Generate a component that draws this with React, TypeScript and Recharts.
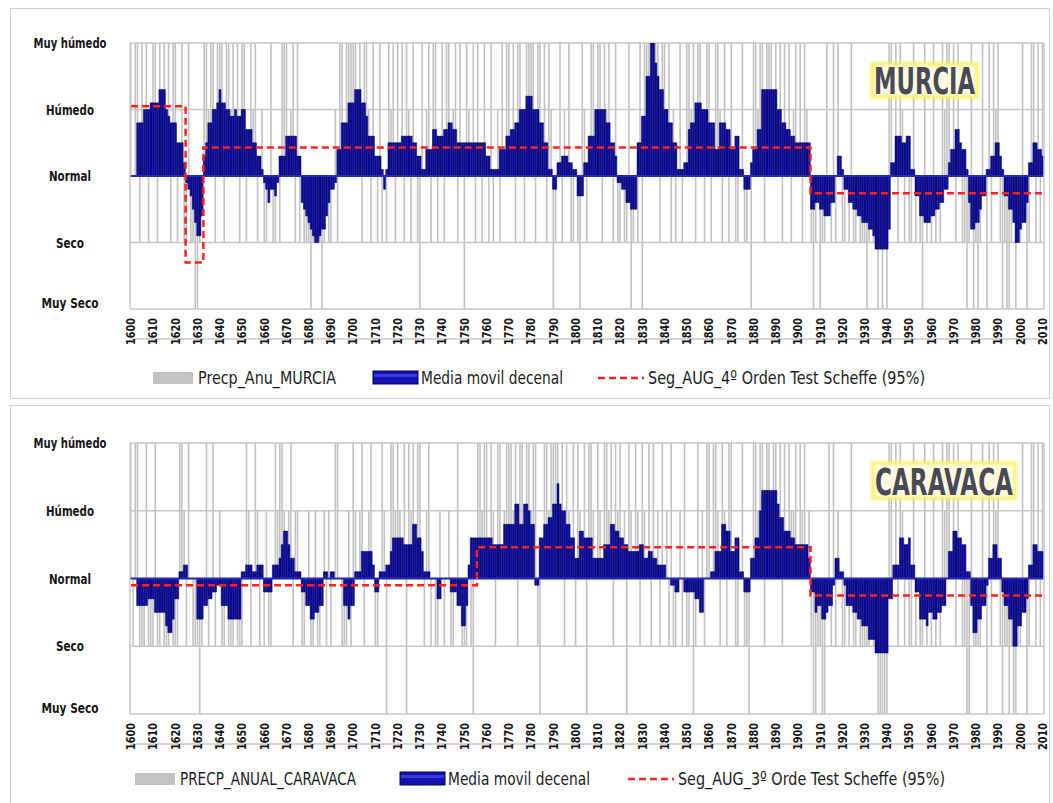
import { ComposedChart, Bar, Line, XAxis, YAxis, CartesianGrid, ReferenceLine } from 'recharts'

// one row per decade, 1600..2010
const years = Array.from({ length: 411 }, (_, i) => 1600 + i)

// Murcia: annual class (-2 muy seco .. 2 muy humedo)
const murciaAnual = [
  [2, 0, 2, 2, -1, 2, 0, 2, -1, 1],
  [2, 2, -1, 2, 0, 2, 1, 2, -1, 2],
  [2, -1, 0, 2, -1, -1, 2, -1, -1, -2],
  [-2, -1, 0, 2, 2, 1, 2, 2, -1, 2],
  [2, 2, -1, 2, 2, 1, 2, 0, 2, -1],
  [2, 2, -1, 0, 2, 1, 2, -1, 0, 1],
  [-1, -1, 0, 2, -1, -1, 0, -1, 2, 2],
  [2, 0, 1, 2, -1, 2, -1, 0, -1, -1],
  [-1, -2, -1, -1, 0, -1, -2, -1, 0, -1],
  [-1, 0, 1, -1, 2, 2, 0, 2, 2, 2],
  [2, 2, 0, 2, -1, 2, 2, 1, -1, 2],
  [0, -1, 2, -1, 0, -1, 2, 1, 2, -1],
  [2, 0, 2, -1, 2, 1, -1, 2, 0, -1],
  [-2, 2, 0, 1, 2, -1, 2, 2, -1, 0],
  [2, -1, 2, 2, 0, 1, 2, -1, 2, 0],
  [-2, 2, 1, 0, 2, -1, 2, 0, -1, 2],
  [0, -1, 2, -1, 0, 1, -1, 2, 0, 2],
  [2, 0, 2, -1, 2, 2, 1, -1, 2, 2],
  [2, 2, -1, 2, 2, 0, 2, -1, 2, 1],
  [-2, -1, 0, 2, -1, 1, 0, 2, -1, -1],
  [0, -1, -2, 2, 1, -1, 0, 2, 2, 0],
  [2, 2, -1, 2, 1, 2, 0, -1, 2, -1],
  [-1, 0, -1, -1, 2, -2, -1, 0, -1, 2],
  [-2, 2, 2, 2, 2, 1, 2, 2, -1, 2],
  [2, 0, 2, -1, 1, -1, 0, 2, -1, 0],
  [2, 2, 1, 2, -1, 2, 2, 0, -1, 2],
  [2, -1, 0, 2, 2, 1, -1, 2, 0, -1],
  [2, 0, -1, -1, 0, 2, -1, -1, 0, -2],
  [2, 2, 1, 2, 2, -1, 2, 2, 2, 0],
  [2, 1, 2, -1, 2, 0, 2, -1, 1, 2],
  [0, 2, -1, 2, 1, 0, -1, -2, -1, 0],
  [-2, -1, -1, 2, 0, -1, 2, -1, 2, 0],
  [-1, -1, 0, -1, 2, -1, -1, 0, -1, -1],
  [-1, -2, -1, 0, -1, -1, -2, -1, -2, -1],
  [-2, 2, 2, 0, 2, -1, 2, 1, -1, 0],
  [-1, -1, 2, -1, 0, -1, -2, 2, -1, 0],
  [-1, 2, -1, 0, -1, 2, 1, 2, 2, 0],
  [2, -1, 2, 0, -1, -1, -2, -1, 2, -2],
  [-1, -2, -1, 2, 0, -2, 2, -1, 2, 1],
  [2, -1, -2, -1, -2, -2, -1, 0, -2, -1],
  [-1, 2, 0, -2, -1, 2, 2, -1, 2, -1],
  [2],
].flat()

// Murcia: media movil decenal
const murciaMedia = [
  [null, null, null, 0.8, 0.8, 0.8, 1.0, 1.0, 1.0, 1.1],
  [1.1, 1.1, 1.1, 1.3, 1.3, 1.3, 1.0, 0.9, 0.8, 0.8],
  [0.8, 0.5, 0.5, 0.5, 0.2, -0.1, -0.2, -0.3, -0.5, -0.7],
  [-0.9, -0.9, -0.6, 0.3, 0.5, 0.8, 0.8, 1.0, 1.0, 1.1],
  [1.3, 1.1, 1.1, 1.0, 1.0, 0.9, 0.9, 1.0, 0.9, 0.9],
  [1.0, 1.0, 0.7, 0.7, 0.7, 0.5, 0.5, 0.3, 0.3, 0.1],
  [-0.1, -0.2, -0.4, -0.2, -0.2, -0.3, -0.1, 0.3, 0.3, 0.3],
  [0.6, 0.6, 0.6, 0.6, 0.6, 0.3, 0.3, -0.4, -0.5, -0.6],
  [-0.7, -0.8, -0.9, -1.0, -1.0, -0.9, -0.8, -0.8, -0.6, -0.4],
  [-0.2, -0.2, -0.1, 0.4, 0.4, 0.8, 0.8, 0.8, 1.1, 1.1],
  [1.1, 1.3, 1.3, 1.3, 1.1, 1.1, 0.9, 0.6, 0.6, 0.6],
  [0.3, 0.3, 0.3, 0.1, -0.2, 0.1, 0.5, 0.5, 0.5, 0.5],
  [0.5, 0.5, 0.6, 0.6, 0.6, 0.6, 0.6, 0.5, 0.5, 0.3],
  [0.3, 0.1, 0.1, 0.4, 0.4, 0.4, 0.7, 0.7, 0.6, 0.6],
  [0.6, 0.7, 0.7, 0.8, 0.8, 0.7, 0.7, 0.5, 0.5, 0.5],
  [0.5, 0.5, 0.5, 0.5, 0.5, 0.5, 0.5, 0.5, 0.5, 0.5],
  [0.3, 0.3, 0.1, 0.1, 0.1, 0.1, 0.4, 0.4, 0.4, 0.6],
  [0.6, 0.7, 0.7, 0.8, 0.8, 1.0, 1.0, 1.0, 1.2, 1.2],
  [1.2, 1.0, 1.0, 1.0, 0.8, 0.8, 0.5, 0.5, 0.1, 0.1],
  [-0.2, -0.2, 0.2, 0.2, 0.3, 0.3, 0.3, 0.2, 0.2, 0.1],
  [0.1, -0.3, -0.3, -0.3, 0.2, 0.2, 0.6, 0.6, 0.6, 1.0],
  [1.0, 1.0, 1.0, 1.0, 0.8, 0.8, 0.5, 0.5, 0.3, -0.1],
  [-0.1, -0.2, -0.2, -0.4, -0.4, -0.5, -0.5, -0.5, 0.5, 0.5],
  [0.9, 0.9, 1.5, 1.5, 2.0, 2.0, 1.7, 1.5, 1.3, 1.3],
  [1.0, 1.0, 0.8, 0.8, 0.5, 0.5, 0.1, 0.1, 0.1, 0.2],
  [0.2, 0.7, 0.8, 0.8, 1.1, 1.1, 1.1, 1.0, 1.0, 1.0],
  [0.8, 0.8, 0.8, 0.4, 0.4, 0.8, 0.8, 0.8, 0.7, 0.7],
  [0.4, 0.4, 0.6, 0.6, 0.1, 0.1, -0.2, -0.2, -0.2, 0.2],
  [0.4, 0.4, 0.7, 0.7, 1.3, 1.3, 1.3, 1.3, 1.3, 1.3],
  [1.3, 1.0, 1.0, 0.8, 0.8, 0.7, 0.7, 0.6, 0.6, 0.5],
  [0.5, 0.5, 0.5, 0.5, 0.5, 0.5, -0.5, -0.5, -0.4, -0.4],
  [-0.5, -0.5, -0.6, -0.6, -0.6, -0.4, -0.4, 0.0, 0.3, 0.3],
  [0.1, -0.2, -0.2, -0.4, -0.4, -0.5, -0.5, -0.6, -0.6, -0.7],
  [-0.7, -0.7, -0.8, -0.8, -0.9, -1.1, -1.1, -1.1, -1.1, -1.1],
  [-1.1, -0.8, 0.2, 0.2, 0.6, 0.6, 0.6, 0.5, 0.5, 0.6],
  [0.6, 0.1, 0.1, -0.3, -0.3, -0.6, -0.6, -0.7, -0.7, -0.7],
  [-0.6, -0.6, -0.5, -0.5, -0.4, -0.4, -0.2, -0.2, 0.2, 0.4],
  [0.4, 0.7, 0.7, 0.5, 0.4, 0.4, 0.1, -0.4, -0.8, -0.8],
  [-0.7, -0.7, -0.5, -0.3, -0.3, 0.1, 0.1, 0.3, 0.3, 0.5],
  [0.5, 0.3, 0.1, -0.3, -0.3, -0.5, -0.5, -0.7, -1.0, -1.0],
  [-0.8, -0.7, -0.7, -0.4, 0.2, 0.2, 0.5, 0.5, 0.4, 0.4],
  [0.3],
].flat()

const murciaTramos = [
  { from: 1600, to: 1624, value: 1.05 },
  { from: 1625, to: 1632, value: -1.3 },
  { from: 1633, to: 1905, value: 0.43 },
  { from: 1906, to: 2010, value: -0.26 },
]

// Caravaca
const caravacaAnual = [
  [2, -1, 2, 2, -1, -1, -1, 2, -1, -1],
  [-1, 2, -1, -1, 0, -1, -1, -1, 0, -1],
  [-1, -1, 2, 2, 1, -1, 2, 0, -1, -1],
  [-1, -2, -1, 0, 2, -1, 0, 2, -1, 0],
  [1, -1, -1, 0, -1, -1, -1, 0, -1, -1],
  [-1, 0, 2, 1, -1, 0, 2, 1, -1, 0],
  [-1, 1, -1, -1, 0, 2, 1, 2, 2, 1],
  [0, 1, 2, -1, 1, 1, 0, -1, -1, 0],
  [1, -1, -1, 1, -1, -1, 0, 1, -1, 1],
  [-1, 0, 2, 2, 0, -1, -1, -1, 1, -1],
  [2, 1, 0, 1, 2, -1, 0, 1, 2, 0],
  [-1, -1, 0, 2, 1, -2, 0, 2, 2, 1],
  [2, 1, 0, 2, -2, 2, 1, 2, 0, 2],
  [2, 0, -1, 1, 2, -1, 0, -1, -1, 1],
  [0, -1, 0, 1, -1, -1, 0, 2, 0, -1],
  [-1, -1, 0, -1, -2, 0, 2, 2, 1, 2],
  [2, 0, 2, 1, -1, 2, 2, 0, 1, 2],
  [2, 2, 1, 2, -1, 2, 2, 0, 2, 2],
  [1, 2, 2, -1, -2, 0, 2, 2, 1, 2],
  [2, 2, 2, 1, 2, -1, 2, 1, 0, 2],
  [-1, 2, 1, 0, 2, -2, 2, 2, 1, 0],
  [2, 1, 0, 2, 2, 1, 2, -1, 2, 1],
  [2, 0, 1, -2, 2, 1, 0, 2, 1, -1],
  [2, 1, 0, 2, -1, 2, 0, 1, -1, 2],
  [0, 1, -1, 2, -1, -1, 0, 1, -1, 2],
  [-1, -1, 0, -2, -1, 2, 0, 1, -1, 2],
  [2, 0, 2, 2, 1, -1, 2, 1, -1, 2],
  [2, 0, -1, -1, 0, 2, -1, -1, -2, 0],
  [2, 2, 1, 2, 2, -1, 2, 2, 1, 2],
  [2, 1, 2, -1, 2, 0, 2, 1, 1, 2],
  [0, 2, 1, 2, 0, 1, -1, -2, -2, -1],
  [-1, -2, -2, 0, 2, -1, 2, -1, 1, 0],
  [-1, -1, 0, -1, 2, -1, -1, 0, -1, -1],
  [-1, -1, -1, 0, -1, -1, -2, -2, -2, -2],
  [-2, 2, 2, 0, 2, -1, 2, 1, -1, 0],
  [-1, -1, 2, -1, 0, -1, -1, 2, -1, 0],
  [-1, 2, -1, 0, -1, 2, 1, 2, 2, 0],
  [2, -1, 2, 0, -1, -1, -2, -2, 2, -1],
  [-1, -1, -1, 2, 0, -2, 2, -1, 2, 1],
  [2, -1, -2, -1, -1, -2, -1, -2, -2, -1],
  [-1, 2, 0, -2, -1, 2, 2, -1, 2, -1],
  [2],
].flat()

const caravacaMedia = [
  [null, null, null, -0.4, -0.4, -0.4, -0.4, -0.4, -0.3, -0.3],
  [-0.3, -0.5, -0.5, -0.5, -0.5, -0.5, -0.7, -0.8, -0.8, -0.6],
  [-0.3, -0.3, 0.1, 0.1, 0.2, 0.2, 0.0, 0.0, 0.0, 0.0],
  [-0.6, -0.6, -0.6, -0.4, -0.4, -0.3, -0.3, -0.2, -0.2, -0.1],
  [-0.1, -0.4, -0.4, -0.4, -0.6, -0.6, -0.6, -0.6, -0.6, -0.6],
  [0.1, 0.1, 0.2, 0.2, 0.2, 0.1, 0.1, 0.2, 0.2, 0.2],
  [-0.2, -0.2, -0.2, -0.2, 0.2, 0.2, 0.2, 0.3, 0.5, 0.7],
  [0.7, 0.5, 0.3, 0.3, 0.1, 0.1, 0.1, -0.2, -0.2, -0.4],
  [-0.4, -0.6, -0.6, -0.5, -0.5, -0.4, -0.4, 0.1, 0.1, 0.0],
  [0.1, 0.1, 0.0, 0.0, 0.0, 0.0, -0.4, -0.4, -0.6, -0.4],
  [-0.4, 0.1, 0.1, 0.1, 0.4, 0.4, 0.4, 0.4, 0.4, 0.2],
  [-0.2, -0.2, 0.1, 0.1, 0.1, 0.2, 0.2, 0.4, 0.6, 0.6],
  [0.6, 0.6, 0.6, 0.5, 0.5, 0.5, 0.5, 0.8, 0.8, 0.6],
  [0.6, 0.4, 0.1, 0.1, 0.1, 0.0, 0.0, 0.0, -0.3, -0.3],
  [0.0, 0.0, 0.0, 0.0, -0.2, -0.2, -0.2, -0.4, -0.4, -0.7],
  [-0.7, -0.4, 0.2, 0.6, 0.6, 0.6, 0.6, 0.6, 0.6, 0.6],
  [0.6, 0.6, 0.6, 0.5, 0.5, 0.5, 0.5, 0.5, 0.8, 0.8],
  [0.8, 0.8, 0.8, 1.1, 1.1, 0.8, 0.8, 1.1, 1.1, 1.0],
  [0.8, 0.8, -0.1, -0.1, 0.6, 0.6, 0.8, 0.8, 0.9, 0.9],
  [1.1, 1.1, 1.4, 1.1, 1.0, 1.0, 0.8, 0.8, 0.6, 0.6],
  [0.3, 0.3, 0.7, 0.7, 0.6, 0.6, 0.6, 0.6, 0.3, 0.3],
  [0.3, 0.3, 0.3, 0.5, 0.5, 0.5, 0.8, 0.8, 0.7, 0.7],
  [0.6, 0.6, 0.5, 0.5, 0.4, 0.4, 0.4, 0.4, 0.4, 0.5],
  [0.5, 0.3, 0.3, 0.4, 0.4, 0.3, 0.3, 0.2, 0.2, 0.2],
  [0.2, 0.0, 0.0, -0.1, -0.1, -0.2, -0.2, 0.0, 0.0, -0.2],
  [-0.2, -0.2, -0.2, -0.2, -0.3, -0.3, -0.5, -0.5, 0.0, 0.0],
  [0.0, 0.1, 0.1, 0.4, 0.4, 0.4, 0.8, 0.8, 0.7, 0.7],
  [0.4, 0.4, 0.6, 0.6, 0.1, 0.1, -0.2, -0.2, -0.2, 0.3],
  [0.3, 0.6, 0.6, 1.0, 1.3, 1.3, 1.3, 1.3, 1.3, 1.3],
  [1.3, 1.1, 0.9, 0.9, 0.7, 0.7, 0.7, 0.6, 0.6, 0.5],
  [0.5, 0.5, 0.5, 0.5, 0.5, 0.3, -0.2, -0.2, -0.5, -0.4],
  [-0.4, -0.6, -0.6, -0.5, -0.4, -0.4, -0.1, 0.3, 0.3, 0.1],
  [0.1, -0.1, -0.4, -0.4, -0.4, -0.5, -0.5, -0.6, -0.6, -0.7],
  [-0.7, -0.7, -0.9, -0.9, -0.9, -1.1, -1.1, -1.1, -1.1, -1.1],
  [-1.1, -0.3, -0.3, 0.2, 0.2, 0.2, 0.6, 0.6, 0.5, 0.5],
  [0.6, 0.2, 0.2, -0.2, -0.2, -0.6, -0.6, -0.6, -0.7, -0.5],
  [-0.5, -0.6, -0.6, -0.5, -0.5, -0.4, -0.4, 0.0, 0.4, 0.4],
  [0.7, 0.7, 0.6, 0.6, 0.5, 0.5, 0.1, 0.1, -0.4, -0.8],
  [-0.8, -0.6, -0.6, -0.4, -0.4, -0.1, 0.3, 0.3, 0.5, 0.5],
  [0.3, 0.3, -0.2, -0.4, -0.4, -0.6, -0.6, -1.0, -1.0, -0.7],
  [-0.7, -0.5, -0.5, -0.3, 0.2, 0.2, 0.5, 0.5, 0.4, 0.4],
  [0.4],
].flat()

const caravacaTramos = [
  { from: 1600, to: 1755, value: -0.1 },
  { from: 1756, to: 1905, value: 0.46 },
  { from: 1906, to: 2010, value: -0.25 },
]

const niveles: Record<string, { label: string; len: number }> = {
  '2': { label: 'Muy húmedo', len: 73 },
  '1': { label: 'Húmedo', len: 48 },
  '0': { label: 'Normal', len: 42 },
  '-1': { label: 'Seco', len: 28 },
  '-2': { label: 'Muy Seco', len: 57 },
}

type Tramo = { from: number; to: number; value: number }

function buildRows(anual: number[], media: (number | null)[], tramos: Tramo[]) {
  if (anual.length !== years.length || media.length !== years.length) {
    throw new Error(`length mismatch ${anual.length} ${media.length}`)
  }
  return years.map((year, i) => ({
    year,
    anual: anual[i],
    media: media[i],
    seg: tramos.find((t) => year >= t.from && year <= t.to)?.value ?? null,
  }))
}

const murciaRows = buildRows(murciaAnual, murciaMedia, murciaTramos)
const caravacaRows = buildRows(caravacaAnual, caravacaMedia, caravacaTramos)

const FONT = "'DejaVu Sans', 'Liberation Sans', sans-serif"
const GRID = '#c8c8c8'

function LevelTick(props: any) {
  const v = Number(props.payload.value)
  const y = Number(props.y)
  const n = niveles[String(v)]
  return (
    <text
      x={70}
      y={v === -2 ? y - 6 : y}
      textAnchor="middle"
      dominantBaseline="central"
      textLength={n.len}
      lengthAdjust="spacingAndGlyphs"
      fontFamily={FONT}
      fontWeight="bold"
      fontSize={14}
      fill="#161616"
    >
      {n.label}
    </text>
  )
}

function YearTick({ x, axisY, value }: { x: number; axisY: number; value: number }) {
  const y = axisY + 9
  return (
    <g transform={`translate(${x},${y}) rotate(-90)`}>
      <text
        x={0}
        y={0}
        textAnchor="end"
        dominantBaseline="central"
        textLength={27}
        lengthAdjust="spacingAndGlyphs"
        fontFamily={FONT}
        fontWeight="bold"
        fontSize={12}
        fill="#161616"
      >
        {value}
      </text>
    </g>
  )
}

function Panel({ rows, height, xHeight }: { rows: any[]; height: number; xHeight: number }) {
  const axisY = height - xHeight
  return (
    <ComposedChart
      width={1053}
      height={height}
      data={rows}
      margin={{ top: 43, right: 8, bottom: 0, left: 0 }}
      barCategoryGap={0}
      barGap={0}
    >
      <CartesianGrid xAxisId="b" vertical={false} stroke={GRID} strokeWidth={1.5} />
      <XAxis
        xAxisId="g"
        dataKey="year"
        height={xHeight}
        interval={9}
        tickLine={false}
        tickSize={0}
        axisLine={{ stroke: GRID, strokeWidth: 1.5 }}
        tick={(p: any) => <YearTick x={Number(p.x)} axisY={axisY} value={p.payload.value} />}
      />
      <XAxis xAxisId="b" dataKey="year" hide />
      <YAxis
        domain={[-2, 2]}
        ticks={[-2, -1, 0, 1, 2]}
        width={130}
        tickLine={false}
        axisLine={{ stroke: GRID, strokeWidth: 1.5 }}
        tick={(p: any) => <LevelTick {...p} />}
        allowDataOverflow
      />
      <YAxis
        yAxisId="r"
        orientation="right"
        width={1}
        domain={[-2, 2]}
        tick={false}
        tickLine={false}
        axisLine={{ stroke: GRID, strokeWidth: 1.5 }}
      />
      <Bar xAxisId="g" dataKey="anual" fill="#c2c2c2" barSize={1.6} isAnimationActive={false} />
      <Bar
        xAxisId="b"
        dataKey="media"
        fill="#0b0ba6"
        stroke="#03035c"
        strokeWidth={0.5}
        isAnimationActive={false}
      />
      <ReferenceLine xAxisId="b" y={0} stroke="#2a2ab8" strokeWidth={2} />
      <Line
        xAxisId="b"
        dataKey="seg"
        type="step"
        stroke="#ff2020"
        strokeWidth={2.5}
        strokeDasharray="7 4"
        dot={false}
        isAnimationActive={false}
      />
    </ComposedChart>
  )
}

function Title({ x, y, w, h, text }: { x: number; y: number; w: number; h: number; text: string }) {
  const sx = 0.62
  return (
    <g>
      <rect x={x} y={y} width={w} height={h} fill="#fffce0" stroke="#f2f23c" strokeWidth={3} filter="url(#glow)" />
      <g transform={`translate(${x + 2},${y + h - 3}) scale(${sx},1)`}>
        <text
          x={0}
          y={0}
          textLength={(w - 4) / sx}
          lengthAdjust="spacingAndGlyphs"
          fontFamily={FONT}
          fontWeight="bold"
          fontSize={37}
          fill="#4a4957"
        >
          {text}
        </text>
      </g>
    </g>
  )
}

function LegendRow(props: {
  y: number
  grayX: number
  grayText: string
  grayLen: number
  blueX: number
  redX: number
  redText: string
  redLen: number
}) {
  const { y, grayX, grayText, grayLen, blueX, redX, redText, redLen } = props
  const txt = { fontFamily: FONT, fontSize: 18, fill: '#1c1c1c', lengthAdjust: 'spacingAndGlyphs' as const }
  return (
    <g>
      <rect x={grayX} y={y - 6} width={40} height={12} fill="#c2c2c2" />
      <text x={grayX + 45} y={y + 6} textLength={grayLen} {...txt}>
        {grayText}
      </text>
      <rect x={blueX} y={y - 7} width={45} height={13} fill="#1212b0" stroke="#02025a" strokeWidth={1} />
      <rect x={blueX + 1} y={y - 4} width={43} height={3} fill="#3a3ae0" />
      <text x={blueX + 48} y={y + 6} textLength={142} {...txt}>
        Media movil decenal
      </text>
      <line x1={redX} x2={redX + 46} y1={y} y2={y} stroke="#ff2020" strokeWidth={2.5} strokeDasharray="7 4" />
      <text x={redX + 50} y={y + 6} textLength={redLen} {...txt}>
        {redText}
      </text>
    </g>
  )
}

export default function App() {
  return (
    <div style={{ position: 'absolute', left: 0, top: 0, width: 1053, height: 803, background: '#fff', overflow: 'hidden' }}>
      <div style={{ position: 'absolute', left: 10, top: 8, width: 1040, height: 391, border: '1.5px solid #cfcfcf', boxSizing: 'border-box' }} />
      <div style={{ position: 'absolute', left: 10, top: 405, width: 1040, height: 410, border: '1.5px solid #cfcfcf', boxSizing: 'border-box' }} />
      <div style={{ position: 'absolute', left: 0, top: 0 }}>
        <Panel rows={murciaRows} height={400} xHeight={91} />
      </div>
      <div style={{ position: 'absolute', left: 0, top: 400 }}>
        <Panel rows={caravacaRows} height={403} xHeight={89} />
      </div>
      <svg width={1053} height={803} style={{ position: 'absolute', left: 0, top: 0, pointerEvents: 'none' }}>
        <defs>
          <filter id="glow" x="-20%" y="-30%" width="140%" height="160%">
            <feGaussianBlur stdDeviation="1.6" />
          </filter>
        </defs>
        <Title x={872} y={64} w={105} h={33} text="MURCIA" />
        <Title x={873} y={463} w={142} h={35} text="CARAVACA" />
        <LegendRow
          y={378}
          grayX={153}
          grayText="Precp_Anu_MURCIA"
          grayLen={138}
          blueX={373}
          redX={598}
          redText="Seg_AUG_4º Orden Test Scheffe (95%)"
          redLen={277}
        />
        <LegendRow
          y={779}
          grayX={135}
          grayText="PRECP_ANUAL_CARAVACA"
          grayLen={176}
          blueX={400}
          redX={628}
          redText="Seg_AUG_3º Orde Test Scheffe (95%)"
          redLen={267}
        />
      </svg>
    </div>
  )
}
